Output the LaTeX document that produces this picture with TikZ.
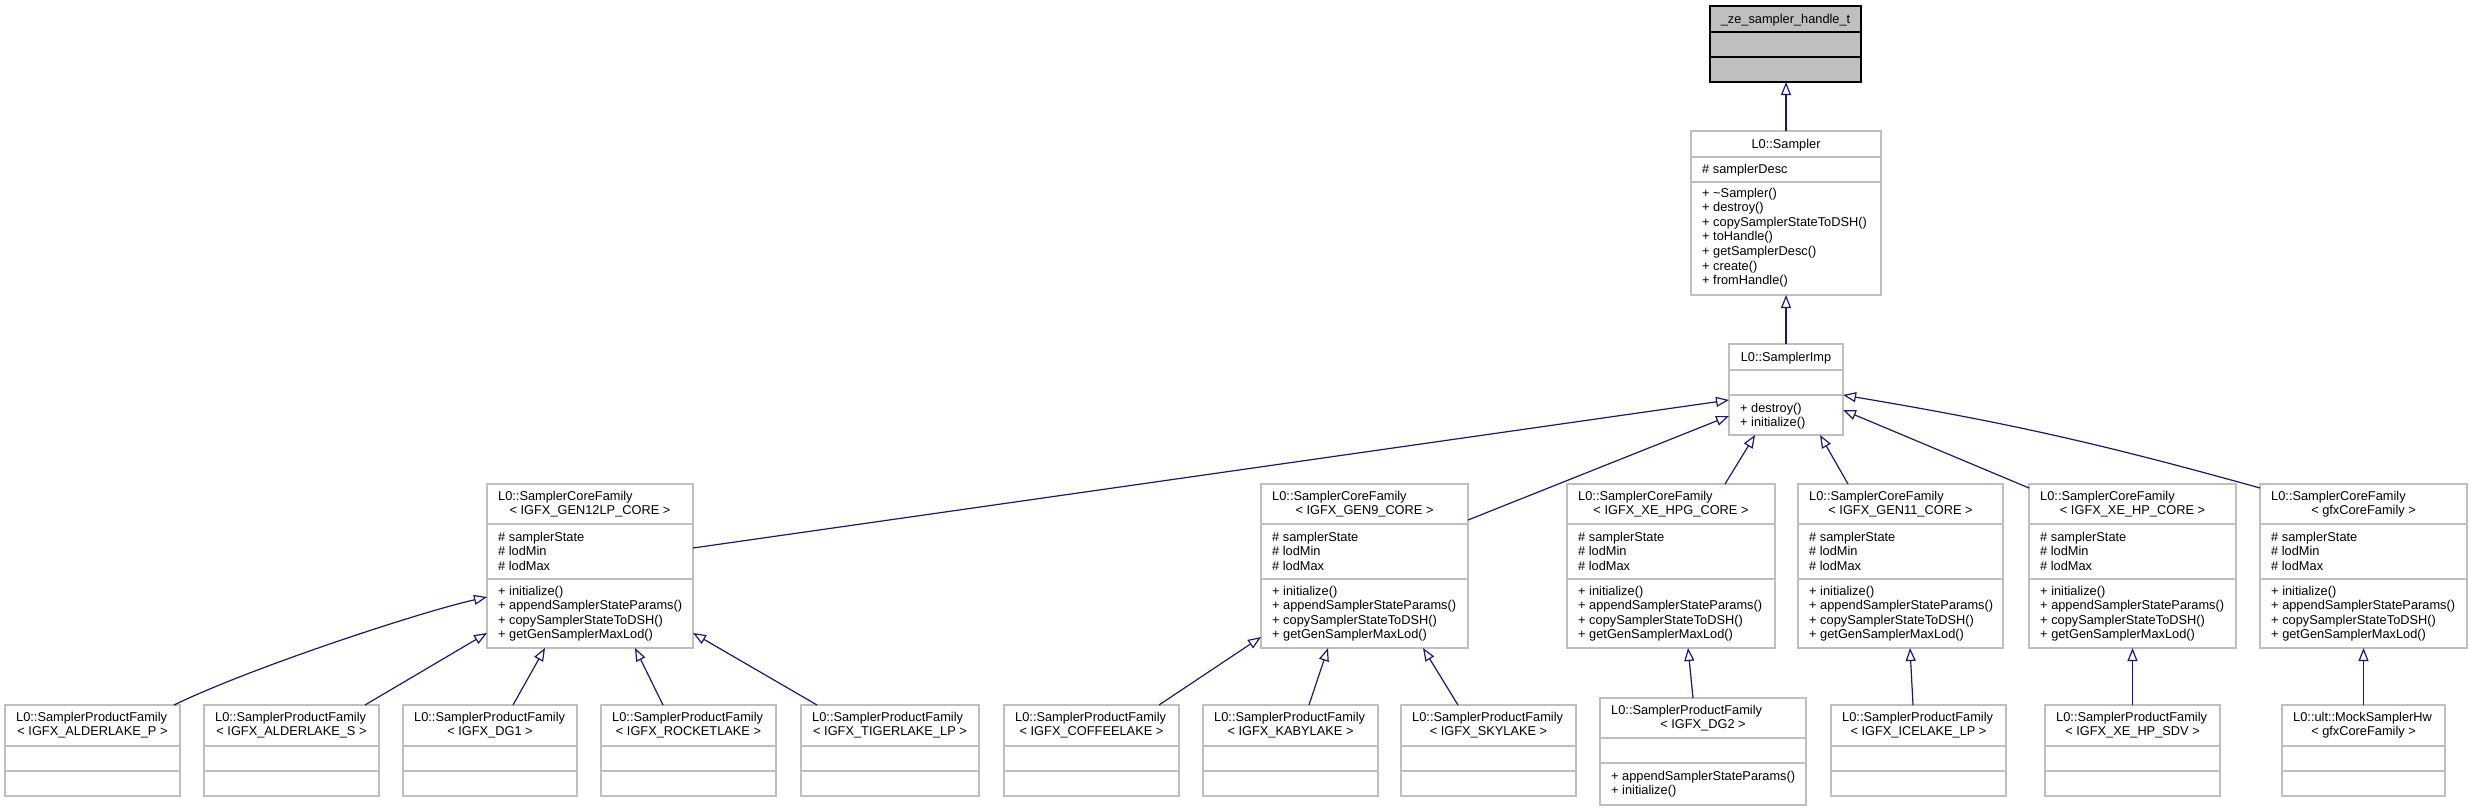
\documentclass[tikz,border=0pt]{standalone}
\usepackage{fontspec}
\setmainfont{Liberation Sans}
\usetikzlibrary{arrows.meta}
\definecolor{edgeblue}{HTML}{191970}
\definecolor{boxgray}{HTML}{BFBFBF}
\tikzset{
 clsbox/.style={draw=boxgray, line width=1.1pt, fill=white, inner sep=0pt, outer sep=0pt},
 rootbox/.style={draw=black, fill=boxgray, line width=1.1pt, inner sep=0pt, outer sep=0pt},
 sepline/.style={draw=boxgray, line width=1.1pt},
 rootsep/.style={draw=black, line width=1.1pt},
 txt/.style={inner sep=0pt, font=\fontsize{12.8}{14.6}\selectfont, text height=10pt, text depth=2pt},
 inh/.style={draw=edgeblue, line width=1.2pt, -{Triangle[open, length=13pt, width=10pt]}},
}
\newcommand\umlcls[9]{%
 \node[#8, minimum width={#4-#2}, minimum height={#5-#3}] (#1) at ({(#2+#4)/2},{(#3+#5)/2}) {};
 \draw[#9] (#2,#6) -- (#4,#6) (#2,#7) -- (#4,#7);}
\newcommand\txtlines[4]{%
 \foreach \t [count=\i] in {#4} {\node[txt,anchor=west] (#1\i) at (#2,{#3+14.6*(\i-1)}) {\t};}}
\newcommand\umlhead[6]{%
 \node[txt,anchor=west] (#1h1) at ({#2+11},{#4+12.3}) {#5};
 \node[txt] (#1h2) at ({(#2+#3)/2},{#4+26.7}) {#6};}
\newcommand\corecls[4]{%
 \umlcls{#1}{#2}{484}{#3}{648}{524}{579}{clsbox}{sepline}
 \umlhead{#1}{#2}{#3}{484}{L0::SamplerCoreFamily}{#4}
 \txtlines{#1a}{#2+11}{537}{\# samplerState,\# lodMin,\# lodMax}
 \txtlines{#1m}{#2+11}{591}{+ initialize(),+ appendSamplerStateParams(),+ copySamplerStateToDSH(),+ getGenSamplerMaxLod()}}
\newcommand\prodcls[5]{%
 \umlcls{#1}{#2}{705}{#3}{796}{746}{771}{clsbox}{sepline}
 \umlhead{#1}{#2}{#3}{705}{#4}{#5}}
\begin{document}
\begin{tikzpicture}[x=1pt,y=-1pt]
\useasboundingbox[fill=white] (0,0) rectangle (2472,809);
% root
\umlcls{handle}{1710}{6}{1861}{82}{32}{57}{rootbox}{rootsep}
\node[txt] (handleh) at (1785.5,19) {\_ze\_sampler\_handle\_t};
% Sampler
\umlcls{sampler}{1691}{131}{1881}{295}{157}{182}{clsbox}{sepline}
\node[txt] (samplerh) at (1786,144) {L0::Sampler};
\txtlines{samplera}{1702}{169}{\# samplerDesc}
\txtlines{samplerm}{1702}{193}{+ \textasciitilde Sampler(),+ destroy(),+ copySamplerStateToDSH(),+ toHandle(),+ getSamplerDesc(),+ create(),+ fromHandle()}
% SamplerImp
\umlcls{imp}{1729}{344}{1843}{435}{370}{395}{clsbox}{sepline}
\node[txt] (imph) at (1786,357) {L0::SamplerImp};
\txtlines{impm}{1740}{408}{+ destroy(),+ initialize()}
% core families
\corecls{gen12}{487}{693}{< IGFX\_GEN12LP\_CORE >}
\corecls{gen9}{1261}{1468}{< IGFX\_GEN9\_CORE >}
\corecls{hpg}{1567}{1775}{< IGFX\_XE\_HPG\_CORE >}
\corecls{gen11}{1798}{2003}{< IGFX\_GEN11\_CORE >}
\corecls{xehp}{2029}{2236}{< IGFX\_XE\_HP\_CORE >}
\corecls{gfx}{2260}{2467}{< gfxCoreFamily >}
% product families
\prodcls{adlp}{5}{180}{L0::SamplerProductFamily}{< IGFX\_ALDERLAKE\_P >}
\prodcls{adls}{204}{379}{L0::SamplerProductFamily}{< IGFX\_ALDERLAKE\_S >}
\prodcls{dgone}{403}{577}{L0::SamplerProductFamily}{< IGFX\_DG1 >}
\prodcls{rkl}{601}{776}{L0::SamplerProductFamily}{< IGFX\_ROCKETLAKE >}
\prodcls{tgl}{801}{979}{L0::SamplerProductFamily}{< IGFX\_TIGERLAKE\_LP >}
\prodcls{cfl}{1004}{1179}{L0::SamplerProductFamily}{< IGFX\_COFFEELAKE >}
\prodcls{kbl}{1203}{1378}{L0::SamplerProductFamily}{< IGFX\_KABYLAKE >}
\prodcls{skl}{1401}{1576}{L0::SamplerProductFamily}{< IGFX\_SKYLAKE >}
\prodcls{icl}{1831}{2006}{L0::SamplerProductFamily}{< IGFX\_ICELAKE\_LP >}
\prodcls{sdv}{2045}{2220}{L0::SamplerProductFamily}{< IGFX\_XE\_HP\_SDV >}
\prodcls{mock}{2282}{2445}{L0::ult::MockSamplerHw}{< gfxCoreFamily >}
% DG2
\umlcls{dgtwo}{1600}{698}{1806}{805}{738}{763}{clsbox}{sepline}
\umlhead{dgtwo}{1600}{1806}{698}{L0::SamplerProductFamily}{< IGFX\_DG2 >}
\txtlines{dgtwom}{1611}{776}{+ appendSamplerStateParams(),+ initialize()}
% inheritance edges
\draw[inh] (sampler.north) -- (sampler.north |- handle.south);
\draw[inh] (imp.north) -- (imp.north |- sampler.south);
\draw[inh] ([yshift=18pt]gen12.east) -- ([yshift=-10.5pt]imp.west);
\draw[inh] ([yshift=46pt]gen9.east) -- ([yshift=-26.5pt]imp.west);
\draw[inh] ([xshift=54pt]hpg.north) -- ([xshift=-31pt]imp.south);
\draw[inh] ([xshift=-52.5pt]gen11.north) -- ([xshift=34pt]imp.south);
\draw[inh] ([yshift=-4pt]xehp.north west) -- ([yshift=-20.5pt]imp.east);
\draw[inh] ([yshift=-4pt]gfx.north west) to[bend right=3] ([yshift=-5.5pt]imp.east);
\draw[inh] ([xshift=81.5pt]adlp.north) .. controls (250,668) and (420,612) .. ([yshift=-31pt]gen12.west);
\draw[inh] ([xshift=73.5pt]adls.north) -- ([yshift=-67pt]gen12.west);
\draw[inh] ([xshift=23pt]dgone.north) -- ([xshift=-45pt]gen12.south);
\draw[inh] ([xshift=-25.5pt]rkl.north) -- ([xshift=45pt]gen12.south);
\draw[inh] ([xshift=-73pt]tgl.north) -- ([yshift=-67pt]gen12.east);
\draw[inh] ([xshift=67.5pt]cfl.north) -- ([yshift=-71pt]gen9.west);
\draw[inh] ([xshift=18.5pt]kbl.north) -- ([xshift=-36.5pt]gen9.south);
\draw[inh] ([xshift=-30.5pt]skl.north) -- ([xshift=58.5pt]gen9.south);
\draw[inh] ([xshift=-10pt]dgtwo.north) -- ([xshift=17pt]hpg.south);
\draw[inh] ([xshift=-5.5pt]icl.north) -- ([xshift=9.5pt]gen11.south);
\draw[inh] (sdv.north) -- (xehp.south);
\draw[inh] (mock.north) -- (gfx.south);
\end{tikzpicture}
\end{document}
